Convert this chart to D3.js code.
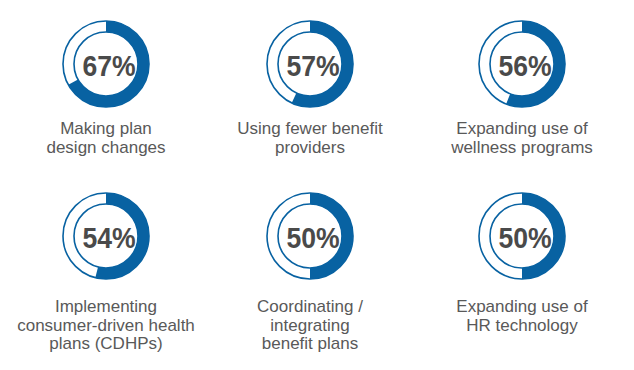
<!DOCTYPE html>
<html>
<head>
<meta charset="utf-8">
<script src="https://cdn.jsdelivr.net/npm/d3@7"></script>
<style>
  body { margin: 0; background: #fff; }
  svg { display: block; }
</style>
</head>
<body>
<svg id="chart" width="634" height="370"></svg>
<script>
// one ring per item, two rows of three
var labels = [
  ["Making plan", "design changes"],
  ["Using fewer benefit", "providers"],
  ["Expanding use of", "wellness programs"],
  ["Implementing", "consumer-driven health", "plans (CDHPs)"],
  ["Coordinating /", "integrating", "benefit plans"],
  ["Expanding use of", "HR technology"]
];
var values = [67, 57, 56, 54, 50, 50];

var blue = "#0862a2";
var r_out = 43;
var r_in = 32;

var svg = d3.select("svg#chart");

var x = d3.scaleOrdinal().domain([0, 1, 2]).range([106, 310, 522]);
var y = d3.scaleOrdinal().domain([0, 1]).range([64, 236]);
var label_y = d3.scaleOrdinal().domain([0, 1]).range([134, 312]);
var angle = d3.scaleLinear().domain([0, 100]).range([0, 2 * Math.PI]);

var arc = d3.arc().innerRadius(r_in).outerRadius(r_out).startAngle(0);

values.forEach(function(v, i) {
  var col = i % 3;
  var row = Math.floor(i / 3);
  var g = svg.append("g")
    .attr("transform", "translate(" + x(col) + "," + y(row) + ")");

  g.append("circle")
    .attr("r", r_out)
    .attr("fill", "#fff")
    .attr("stroke", blue)
    .attr("stroke-width", 1.6);

  g.append("circle")
    .attr("r", r_in)
    .attr("fill", "none")
    .attr("stroke", blue)
    .attr("stroke-width", 1.6);

  g.append("path")
    .attr("d", arc({endAngle: angle(v)}))
    .attr("fill", blue);

  g.append("text")
    .attr("transform", "translate(3,12) scale(0.9,1)")
    .attr("text-anchor", "middle")
    .attr("font-family", "Liberation Sans, Arial, sans-serif")
    .attr("font-weight", "bold")
    .attr("font-size", 29.5)
    .attr("fill", "#4a4a4a")
    .text(v + "%");

  var t = svg.append("text")
    .attr("text-anchor", "middle")
    .attr("font-family", "Liberation Sans, Arial, sans-serif")
    .attr("font-size", 17)
    .attr("fill", "#595959");
  labels[i].forEach(function(line, k) {
    t.append("tspan")
      .attr("x", x(col))
      .attr("y", label_y(row) + k * 18.5)
      .text(line);
  });
});
</script>
</body>
</html>
